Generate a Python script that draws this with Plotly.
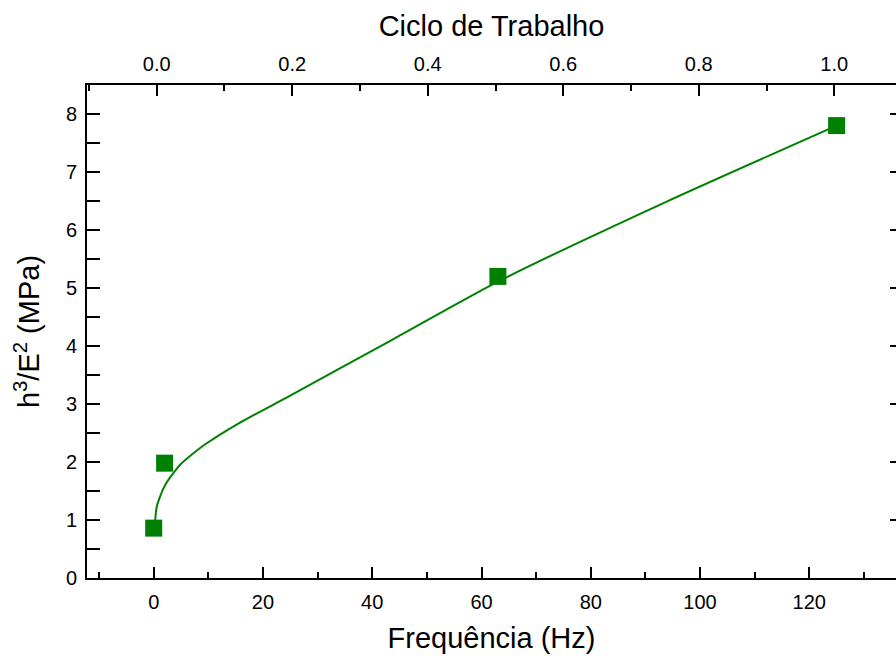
import plotly.graph_objects as go

# Measured points: frequency (Hz) vs h^3/E^2 (MPa)
freq_hz = [0, 2, 63, 125]
h3_e2 = [0.86, 1.98, 5.20, 7.80]

# Fitted trend curve, sampled along its path
fit_x = [0.15, 0.3, 0.42, 0.67, 1.15, 1.76, 2.6, 3.6, 5.0, 6.6, 9.5, 15.8, 24.9, 43.3, 63.0, 93.9, 125.0]
fit_y = [0.92, 1.03, 1.15, 1.27, 1.40, 1.54, 1.68, 1.81, 1.97, 2.10, 2.31, 2.68, 3.14, 4.09, 5.11, 6.49, 7.80]

# Axis ticks
freq_ticks = [0, 20, 40, 60, 80, 100, 120]
duty_ticks = [0.0, 0.2, 0.4, 0.6, 0.8, 1.0]
y_ticks = [0, 1, 2, 3, 4, 5, 6, 7, 8]

GREEN = "#008000"
FONT = "Liberation Sans, Arial, sans-serif"

fig = go.Figure()

fig.add_trace(go.Scatter(
    x=fit_x, y=fit_y, mode="lines",
    line=dict(color=GREEN, width=2, shape="spline", smoothing=0.6),
    showlegend=False, hoverinfo="skip",
))
fig.add_trace(go.Scatter(
    x=freq_hz, y=h3_e2, mode="markers",
    marker=dict(symbol="square", size=17, color=GREEN, line=dict(width=0)),
    showlegend=False,
))
# invisible trace to activate the top duty-cycle axis
fig.add_trace(go.Scatter(
    x=[duty_ticks[0]], y=[None], xaxis="x2", yaxis="y",
    mode="markers", showlegend=False, hoverinfo="skip",
))
# invisible trace for the right-hand tick axis
fig.add_trace(go.Scatter(
    x=[None], y=[y_ticks[0]], xaxis="x", yaxis="y2",
    mode="markers", showlegend=False, hoverinfo="skip",
))

tickfont = dict(family=FONT, size=20, color="black")
titlefont = dict(family=FONT, size=29, color="black")

fig.update_layout(
    width=896, height=658,
    margin=dict(l=87, r=0, t=85, b=80),
    paper_bgcolor="white", plot_bgcolor="white",
    xaxis=dict(
        range=[-12.21, 135.87], tickvals=freq_ticks,
        ticks="inside", ticklen=11, tickwidth=1.5, tickcolor="black",
        minor=dict(dtick=10, tick0=0, ticks="inside", ticklen=6, tickwidth=1.5, tickcolor="black"),
        showline=True, linecolor="black", linewidth=2,
        showgrid=False, zeroline=False,
        tickfont=tickfont, ticklabelstandoff=5,
        title=dict(text="Frequência (Hz)", font=titlefont, standoff=16),
    ),
    xaxis2=dict(
        overlaying="x", side="top", anchor="y",
        range=[-0.1029, 1.0911], tickvals=duty_ticks, tickformat=".1f",
        ticks="inside", ticklen=11, tickwidth=1.5, tickcolor="black",
        minor=dict(dtick=0.1, tick0=0, ticks="inside", ticklen=6, tickwidth=1.5, tickcolor="black"),
        showline=True, linecolor="black", linewidth=2,
        showgrid=False, zeroline=False,
        tickfont=tickfont, ticklabelstandoff=4,
        title=dict(text="Ciclo de Trabalho", font=titlefont, standoff=8),
    ),
    yaxis=dict(
        range=[0, 8.5], tickvals=y_ticks,
        ticks="inside", ticklen=13, tickwidth=1.5, tickcolor="black",
        minor=dict(dtick=0.5, tick0=0, ticks="inside", ticklen=13, tickwidth=1.5, tickcolor="black"),
        showline=True, linecolor="black", linewidth=2,
        showgrid=False, zeroline=False,
        tickfont=tickfont, ticklabelstandoff=4,
        title=dict(text="h<sup>3</sup>/E<sup>2</sup> (MPa)", font=titlefont, standoff=18),
    ),
    yaxis2=dict(
        overlaying="y", side="right", anchor="x",
        range=[0, 8.5], tickvals=y_ticks,
        ticks="inside", ticklen=6, tickwidth=1.5, tickcolor="black",
        showticklabels=False,
        showline=True, linecolor="black", linewidth=2,
        showgrid=False, zeroline=False,
    ),
)

fig.write_html("out.html")
